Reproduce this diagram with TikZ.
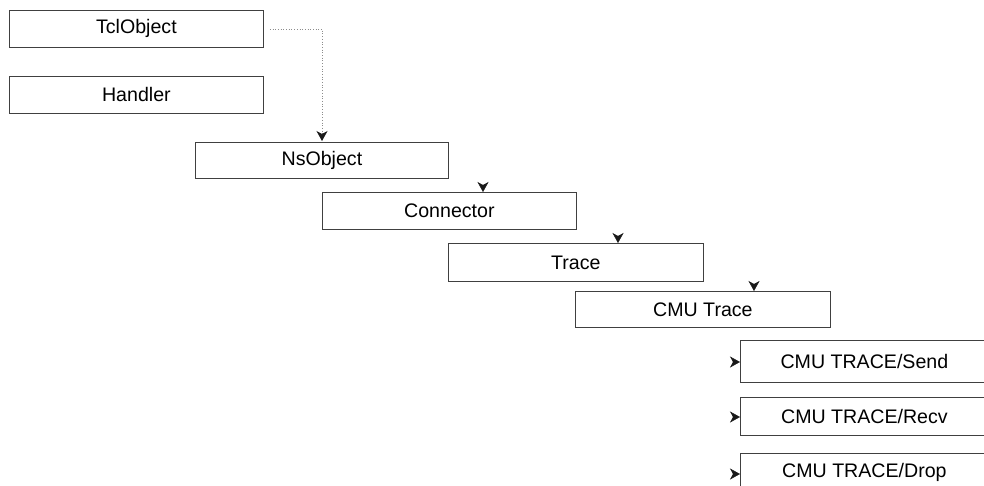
\documentclass[tikz,border=0pt]{standalone}
\usepackage{fontspec}
\setmainfont{Liberation Sans}
\usetikzlibrary{arrows.meta,calc}
\begin{document}
\begin{tikzpicture}[x=1pt,y=-1pt,
  classbox/.style={draw=black!75, line width=0.8pt, fill=white, anchor=north west,
    inner sep=0pt, font=\fontsize{19.6}{22}\selectfont, text=black},
  arr/.style={line width=0.5pt, black!90, -{Stealth[length=10pt,width=11pt,inset=3pt]}},
  dots/.style={black!45, line width=0.7pt, dotted, -{Stealth[length=10pt,width=11pt,inset=3pt,black!90]}}]
  % page frame
  \useasboundingbox (0,0) rectangle (984,485);
  \clip (0,0) rectangle (984,485);

  % class boxes
  \node[classbox, minimum width=254pt, minimum height=37pt] (tcl)     at (9,10)    {TclObject};
  \node[classbox, minimum width=254pt, minimum height=37pt] (handler) at (9,76)    {Handler};
  \node[classbox, minimum width=253pt, minimum height=36pt] (ns)      at (195,142) {NsObject};
  \node[classbox, minimum width=254pt, minimum height=37pt] (conn)    at (322,192) {Connector};
  \node[classbox, minimum width=255pt, minimum height=38pt] (trace)   at (448,243) {Trace};
  \node[classbox, minimum width=255pt, minimum height=36pt] (cmu)     at (575,291) {CMU Trace};
  \node[classbox, minimum width=248pt, minimum height=42pt] (send)    at (740,340) {CMU TRACE/Send};
  \node[classbox, minimum width=248pt, minimum height=38pt] (recv)    at (740,397) {CMU TRACE/Recv};
  \node[classbox, minimum width=248pt, minimum height=38pt] (drop)    at (740,453) {CMU TRACE/Drop};

  % dotted link from TclObject down to NsObject
  \coordinate (nsin) at ($(ns.north west)+(127,-1)$);
  \draw[dots, shorten <=6pt] (tcl.east) -| (nsin);

  % arrow heads resting on the boxes (stubs no longer than the head)
  \coordinate (c1) at (483,185);
  \coordinate (c2) at (618,236);
  \coordinate (c3) at (754,284);
  \draw[arr] (c1) -- (c1 |- conn.north);
  \draw[arr] (c2) -- (c2 |- trace.north);
  \draw[arr] (c3) -- (c3 |- cmu.north);

  \coordinate (s1) at (733,362);
  \coordinate (s2) at (733,417);
  \coordinate (s3) at (733,474);
  \draw[arr] (s1) -- (s1 -| send.west);
  \draw[arr] (s2) -- (s2 -| recv.west);
  \draw[arr] (s3) -- (s3 -| drop.west);
\end{tikzpicture}
\end{document}
